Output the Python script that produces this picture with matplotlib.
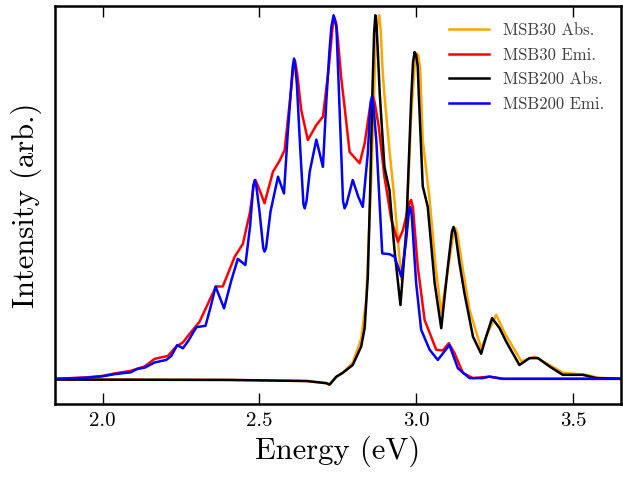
"""Absorption / emission spectra of MSB30 and MSB200."""

import matplotlib
matplotlib.use("Agg")
import matplotlib.pyplot as plt
import numpy as np


# values (energy in eV, normalised intensity)
abs30_e = [1.85, 2.40, 2.65, 2.713, 2.723, 2.745, 2.766, 2.797, 2.824, 2.840, 2.856,
           2.870, 2.876, 2.881, 2.886, 2.892, 2.898, 2.914, 2.930, 2.952, 2.967, 2.983,
           2.995, 3.001, 3.006, 3.012, 3.020, 3.042, 3.061, 3.079, 3.100, 3.118, 3.124,
           3.130, 3.148, 3.169, 3.206, 3.227, 3.254, 3.281, 3.334, 3.376, 3.420, 3.466,
           3.540, 3.580, 3.65]
abs30_i = [-0.002, -0.003, -0.006, -0.012, -0.016, 0.006, 0.017, 0.045, 0.11, 0.22, 0.55,
           0.92, 0.98, 1.0, 0.96, 0.85, 0.78, 0.629, 0.492, 0.272, 0.40, 0.72,
           0.87, 0.895, 0.89, 0.85, 0.657, 0.492, 0.309, 0.181, 0.30, 0.40, 0.414,
           0.40, 0.30, 0.19, 0.084, 0.126, 0.176, 0.126, 0.048, 0.061, 0.040, 0.017,
           0.011, 0.003, 0.0]

emi30_e = [1.85, 1.95, 2.00, 2.04, 2.09, 2.134, 2.166, 2.208, 2.235, 2.256, 2.272, 2.309,
           2.346, 2.362, 2.383, 2.421, 2.447, 2.470, 2.482, 2.487, 2.493, 2.500, 2.516,
           2.543, 2.564, 2.580, 2.595, 2.607, 2.613, 2.620, 2.633, 2.654, 2.681, 2.702,
           2.720, 2.733, 2.738, 2.744, 2.750, 2.760, 2.771, 2.787, 2.819, 2.835, 2.855,
           2.861, 2.867, 2.880, 2.898, 2.920, 2.941, 2.957, 2.978, 2.983, 2.989, 3.004,
           3.026, 3.063, 3.084, 3.103, 3.121, 3.148, 3.180, 3.233, 3.275, 3.65]
emi30_i = [0.0, 0.004, 0.008, 0.015, 0.022, 0.034, 0.055, 0.063, 0.089, 0.100, 0.118, 0.157,
           0.226, 0.254, 0.254, 0.336, 0.371, 0.46, 0.535, 0.547, 0.535, 0.52, 0.483,
           0.570, 0.600, 0.629, 0.75, 0.85, 0.876, 0.84, 0.739, 0.657, 0.698, 0.721,
           0.85, 0.97, 0.995, 0.98, 0.931, 0.83, 0.748, 0.624, 0.593, 0.648, 0.765,
           0.776, 0.76, 0.693, 0.556, 0.437, 0.377, 0.409, 0.485, 0.492, 0.47, 0.309,
           0.162, 0.080, 0.078, 0.098, 0.071, 0.016, 0.002, 0.006, 0.0, 0.0]

abs200_e = [1.85, 2.40, 2.65, 2.713, 2.723, 2.745, 2.766, 2.797, 2.824, 2.835, 2.845,
            2.852, 2.860, 2.865, 2.869, 2.873, 2.877, 2.883, 2.898, 2.914, 2.930, 2.949,
            2.967, 2.983, 2.989, 2.994, 2.999, 3.004, 3.008, 3.020, 3.036, 3.058, 3.079,
            3.100, 3.113, 3.118, 3.124, 3.137, 3.153, 3.180, 3.206, 3.222, 3.241, 3.265,
            3.286, 3.328, 3.360, 3.387, 3.424, 3.466, 3.530, 3.573, 3.65]
abs200_i = [-0.002, -0.003, -0.006, -0.012, -0.016, 0.006, 0.017, 0.038, 0.089, 0.14, 0.28,
            0.50, 0.80, 0.95, 1.0, 0.97, 0.90, 0.785, 0.583, 0.519, 0.354, 0.203,
            0.40, 0.766, 0.87, 0.899, 0.89, 0.86, 0.77, 0.53, 0.473, 0.263, 0.139,
            0.309, 0.405, 0.418, 0.40, 0.318, 0.235, 0.116, 0.069, 0.116, 0.167, 0.139,
            0.102, 0.038, 0.057, 0.057, 0.034, 0.011, 0.011, 0.002, 0.0]

emi200_e = [1.85, 1.95, 2.00, 2.04, 2.09, 2.11, 2.135, 2.166, 2.203, 2.219, 2.238, 2.256,
            2.272, 2.299, 2.328, 2.345, 2.360, 2.387, 2.410, 2.431, 2.455, 2.470, 2.480,
            2.485, 2.490, 2.500, 2.512, 2.516, 2.521, 2.535, 2.559, 2.578, 2.590, 2.601,
            2.606, 2.610, 2.614, 2.619, 2.630, 2.640, 2.644, 2.650, 2.660, 2.681, 2.702,
            2.713, 2.723, 2.729, 2.736, 2.745, 2.750, 2.760, 2.766, 2.771, 2.777, 2.797,
            2.815, 2.829, 2.845, 2.853, 2.858, 2.863, 2.872, 2.891, 2.914, 2.930, 2.952,
            2.967, 2.976, 2.980, 2.985, 2.999, 3.015, 3.042, 3.068, 3.105, 3.132, 3.169,
            3.210, 3.233, 3.275, 3.65]
emi200_i = [0.0, 0.003, 0.007, 0.013, 0.018, 0.027, 0.031, 0.045, 0.052, 0.063, 0.093, 0.084,
            0.103, 0.142, 0.146, 0.20, 0.254, 0.194, 0.27, 0.330, 0.313, 0.42, 0.53,
            0.547, 0.53, 0.46, 0.36, 0.350, 0.36, 0.46, 0.556, 0.510, 0.676, 0.803,
            0.86, 0.881, 0.86, 0.812, 0.629, 0.48, 0.469, 0.49, 0.57, 0.658, 0.583,
            0.766, 0.904, 0.968, 1.0, 0.968, 0.858, 0.629, 0.49, 0.469, 0.48, 0.547,
            0.50, 0.473, 0.62, 0.75, 0.776, 0.75, 0.657, 0.345, 0.343, 0.336, 0.281,
            0.38, 0.46, 0.473, 0.45, 0.263, 0.135, 0.080, 0.052, 0.093, 0.029, 0.002,
            0.002, 0.006, 0.0, 0.0]

series = [
    ("MSB30 Abs.", abs30_e, abs30_i, "orange"),
    ("MSB30 Emi.", emi30_e, emi30_i, "red"),
    ("MSB200 Abs.", abs200_e, abs200_i, "black"),
    ("MSB200 Emi.", emi200_e, emi200_i, "blue"),
]
x_ticks = [2.0, 2.5, 3.0, 3.5]


def main():
    plt.rcParams["font.family"] = "cmr10"
    plt.rcParams["mathtext.fontset"] = "cm"
    plt.rcParams["axes.unicode_minus"] = False

    fig = plt.figure(figsize=(6.23, 4.78), dpi=100)
    ax = fig.add_axes([0.089, 0.155, 0.907, 0.832])

    for label, e, inten, color in series:
        ax.plot(np.array(e), np.array(inten), color=color, lw=1.8, label=label)

    ax.set_xlim(1.85, 3.65)
    ax.set_ylim(-0.069, 1.025)
    ax.set_xticks(x_ticks)
    ax.set_xticklabels([f"{t:.1f}" for t in x_ticks])
    ax.set_yticks([])
    ax.tick_params(axis="x", direction="in", top=True, length=8, width=1,
                   labelsize=15, pad=6)
    for spine in ax.spines.values():
        spine.set_linewidth(1.8)

    ax.set_xlabel("Energy (eV)", fontsize=22, labelpad=4)
    ax.set_ylabel("Intensity (arb.)", fontsize=22, labelpad=10)

    leg = ax.legend(loc="upper right", frameon=False, fontsize=12,
                    handlelength=2.4, labelspacing=0.55,
                    borderaxespad=0.6)
    for txt in leg.get_texts():
        txt.set_color("#404040")

    fig.savefig("out.png", dpi=100)
    plt.close(fig)


if __name__ == "__main__":
    main()
